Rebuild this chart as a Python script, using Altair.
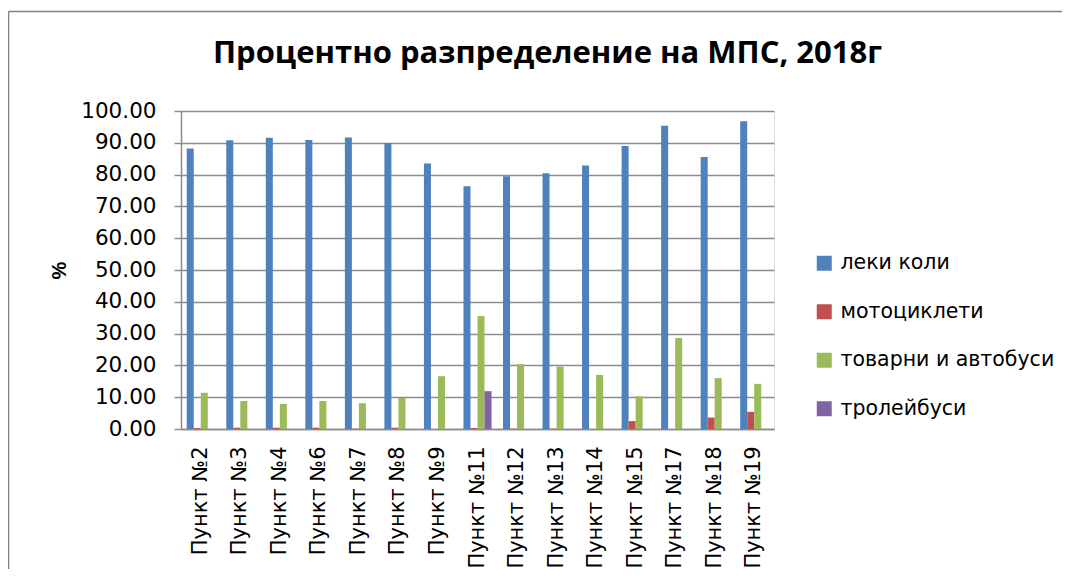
import altair as alt
import pandas as pd

points = ["Пункт №2", "Пункт №3", "Пункт №4", "Пункт №6", "Пункт №7", "Пункт №8",
          "Пункт №9", "Пункт №11", "Пункт №12", "Пункт №13", "Пункт №14",
          "Пункт №15", "Пункт №17", "Пункт №18", "Пункт №19"]
series = ["леки коли", "мотоциклети", "товарни и автобуси", "тролейбуси"]

cars = [88.2, 90.8, 91.6, 90.9, 91.7, 89.9, 83.5, 76.3, 79.5, 80.4, 82.9, 89.0, 95.4, 85.5, 96.8]
motorcycles = [0.3, 0.4, 0.4, 0.4, 0.1, 0.4, 0.0, 0.3, 0.1, 0.1, 0.0, 2.5, 0.0, 3.6, 5.4]
trucks_buses = [11.4, 8.8, 7.9, 8.8, 8.1, 9.8, 16.6, 35.5, 20.4, 19.6, 17.0, 10.3, 28.6, 16.0, 14.2]
trolleybuses = [0.0, 0.0, 0.0, 0.0, 0.0, 0.0, 0.0, 11.9, 0.0, 0.0, 0.0, 0.0, 0.0, 0.0, 0.0]
colors = ["#4F81BD", "#C0504D", "#9BBB59", "#8064A2"]

rows = []
for s, vals in zip(series, [cars, motorcycles, trucks_buses, trolleybuses]):
    for p, v in zip(points, vals):
        rows.append({"point": p, "series": s, "value": v})
df = pd.DataFrame(rows)

W, H = 593, 318
grid_color = "#8c8c8c"

bars = alt.Chart(df).mark_bar().encode(
    x=alt.X("point:N", sort=points,
            scale=alt.Scale(paddingInner=0.29, paddingOuter=0.145),
            axis=alt.Axis(title=None, labelAngle=-90, labelFont="DejaVu Sans",
                          labelFontSize=21, labelColor="black", labelPadding=17,
                          ticks=False, domainColor=grid_color, domainWidth=1.5,
                          grid=False)),
    xOffset=alt.XOffset("series:N", sort=series, scale=alt.Scale(paddingInner=0, paddingOuter=0)),
    y=alt.Y("value:Q", scale=alt.Scale(domain=[0, 100], nice=False),
            axis=alt.Axis(title="%", values=list(range(0, 101, 10)), format=".2f",
                          labelFont="DejaVu Sans", labelFontSize=21.5, labelColor="black",
                          labelPadding=18, tickSize=7, tickColor=grid_color, tickWidth=1.5,
                          domainColor=grid_color, domainWidth=1.5,
                          gridColor=grid_color, gridWidth=1.5,
                          titleFont="Liberation Sans", titleFontSize=20, titleFontWeight="bold",
                          titleColor="black", titleX=-112, titleY=159, titleAngle=-90)),
    color=alt.Color("series:N", sort=series,
                    scale=alt.Scale(domain=series, range=colors),
                    legend=alt.Legend(title=None, orient="none", legendX=633, legendY=142,
                                      symbolType="square", symbolSize=225,
                                      symbolStrokeWidth=0, labelFont="DejaVu Sans",
                                      labelFontSize=20.5, labelColor="black",
                                      rowPadding=27.5, labelOffset=6, labelLimit=400)),
)

frame_df = pd.DataFrame({"k": [0]})
frame_left = alt.Chart(frame_df).mark_rule(color="#808080", strokeWidth=1.5).encode(
    x=alt.value(-172.5), y=alt.value(-99.5), y2=alt.value(480))
frame_top = alt.Chart(frame_df).mark_rule(color="#808080", strokeWidth=1.5).encode(
    x=alt.value(-172.5), x2=alt.value(900), y=alt.value(-99.5))

chart = alt.layer(bars, frame_left, frame_top).properties(
    width=W, height=H,
    title=alt.TitleParams("Процентно разпределение на МПС, 2018г",
                          font="Open Sans", fontSize=31, fontWeight="bold",
                          color="black", dx=70, offset=-59),
    autosize=alt.AutoSizeParams(type="none"),
    padding={"left": 173, "top": 103, "right": 288, "bottom": 140},
).configure_view(stroke=None).configure(background="white")

chart.save("out.html", embed_options={"renderer": "svg", "actions": False})
